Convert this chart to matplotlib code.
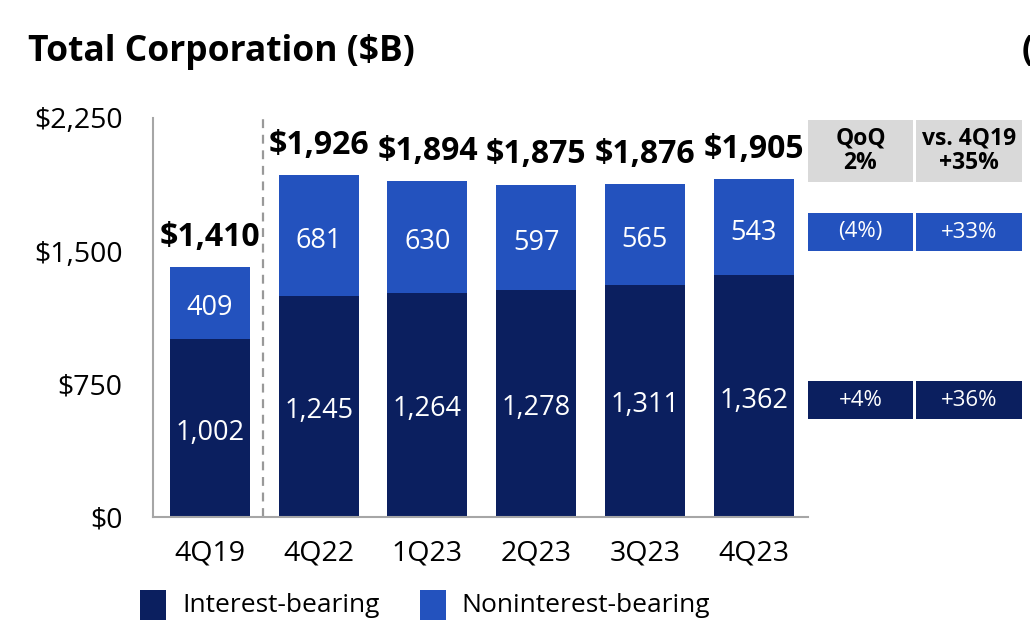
import matplotlib.pyplot as plt
from matplotlib.patches import Rectangle

plt.rcParams['font.family'] = ['Open Sans', 'DejaVu Sans']

quarters = ['4Q19', '4Q22', '1Q23', '2Q23', '3Q23', '4Q23']
interest = [1002, 1245, 1264, 1278, 1311, 1362]
noninterest = [409, 681, 630, 597, 565, 543]
totals = [1410, 1926, 1894, 1875, 1876, 1905]
yticks = [0, 750, 1500, 2250]

table_header = [('QoQ\n2%'), ('vs. 4Q19\n+35%')]
table_nonint = ['(4%)', '+33%']
table_int = ['+4%', '+36%']

dark = '#0B1F5F'
blue = '#2352BE'
gray = '#D9D9D9'

W, H = 1030, 642
fig = plt.figure(figsize=(W / 100, H / 100), dpi=100)
ax = fig.add_axes([153 / W, 1 - 517 / H, (808 - 153) / W, (517 - 118) / H])

x = list(range(len(quarters)))
ax.bar(x, interest, width=0.735, color=dark, zorder=2)
ax.bar(x, noninterest, bottom=interest, width=0.735, color=blue, zorder=2)

for i in x:
    ax.text(i, interest[i] / 2 - 25, f'{interest[i]:,}', ha='center', va='center',
            color='white', fontsize=19.5)
    ax.text(i, interest[i] + noninterest[i] / 2 - 30, f'{noninterest[i]:,}', ha='center',
            va='center', color='white', fontsize=19.5)
    ax.text(i, totals[i] + 120, f'${totals[i]:,}', ha='center', va='baseline',
            fontsize=23, fontweight='bold')

ax.axvline(0.487, color='#999999', linestyle=(0, (4, 3)), linewidth=1.6, zorder=1)

ax.set_xlim(-0.524, 5.5)
ax.set_ylim(0, 2250)
ax.set_yticks(yticks)
ax.set_yticklabels([f'${v:,}' for v in yticks], fontsize=20.5)
ax.set_xticks(x)
ax.set_xticklabels(quarters, fontsize=20.5)
ax.tick_params(axis='y', length=0, pad=22)
ax.tick_params(axis='x', length=0, pad=16)
for s in ['top', 'right']:
    ax.spines[s].set_visible(False)
for s in ['left', 'bottom']:
    ax.spines[s].set_color('#A6A6A6')
    ax.spines[s].set_linewidth(1.5)

fig.text(28 / W, 1 - 52 / H, 'Total Corporation ($B)', fontsize=25.5, fontweight='bold',
         va='center', ha='left')
fig.text(1022 / W, 1 - 52 / H, '(', fontsize=25.5, fontweight='bold', va='center', ha='left')


def cell(x0, x1, y0, y1, color, text, tcolor, bold, size):
    fig.add_artist(Rectangle((x0 / W, 1 - y1 / H), (x1 - x0) / W, (y1 - y0) / H,
                             transform=fig.transFigure, color=color, lw=0))
    fig.text((x0 + x1) / 2 / W, 1 - (y0 + y1) / 2 / H, text, ha='center', va='center',
             color=tcolor, fontsize=size, fontweight='bold' if bold else 'normal',
             linespacing=1.05)


cols = [(808, 913), (916, 1022)]
for (x0, x1), h, n, it in zip(cols, table_header, table_nonint, table_int):
    cell(x0, x1, 120, 182, gray, h, 'black', True, 16.5)
    cell(x0, x1, 213, 251, blue, n, 'white', False, 16)
    cell(x0, x1, 381, 419, dark, it, 'white', False, 16)

# legend
fig.add_artist(Rectangle((140 / W, 1 - 620 / H), 26 / W, 30 / H, transform=fig.transFigure,
                         color=dark, lw=0))
fig.text(182 / W, 1 - 606 / H, 'Interest-bearing', fontsize=19, va='center')
fig.add_artist(Rectangle((420 / W, 1 - 620 / H), 26 / W, 30 / H, transform=fig.transFigure,
                         color=blue, lw=0))
fig.text(461 / W, 1 - 606 / H, 'Noninterest-bearing', fontsize=19, va='center')

fig.savefig('out.png', dpi=100)
